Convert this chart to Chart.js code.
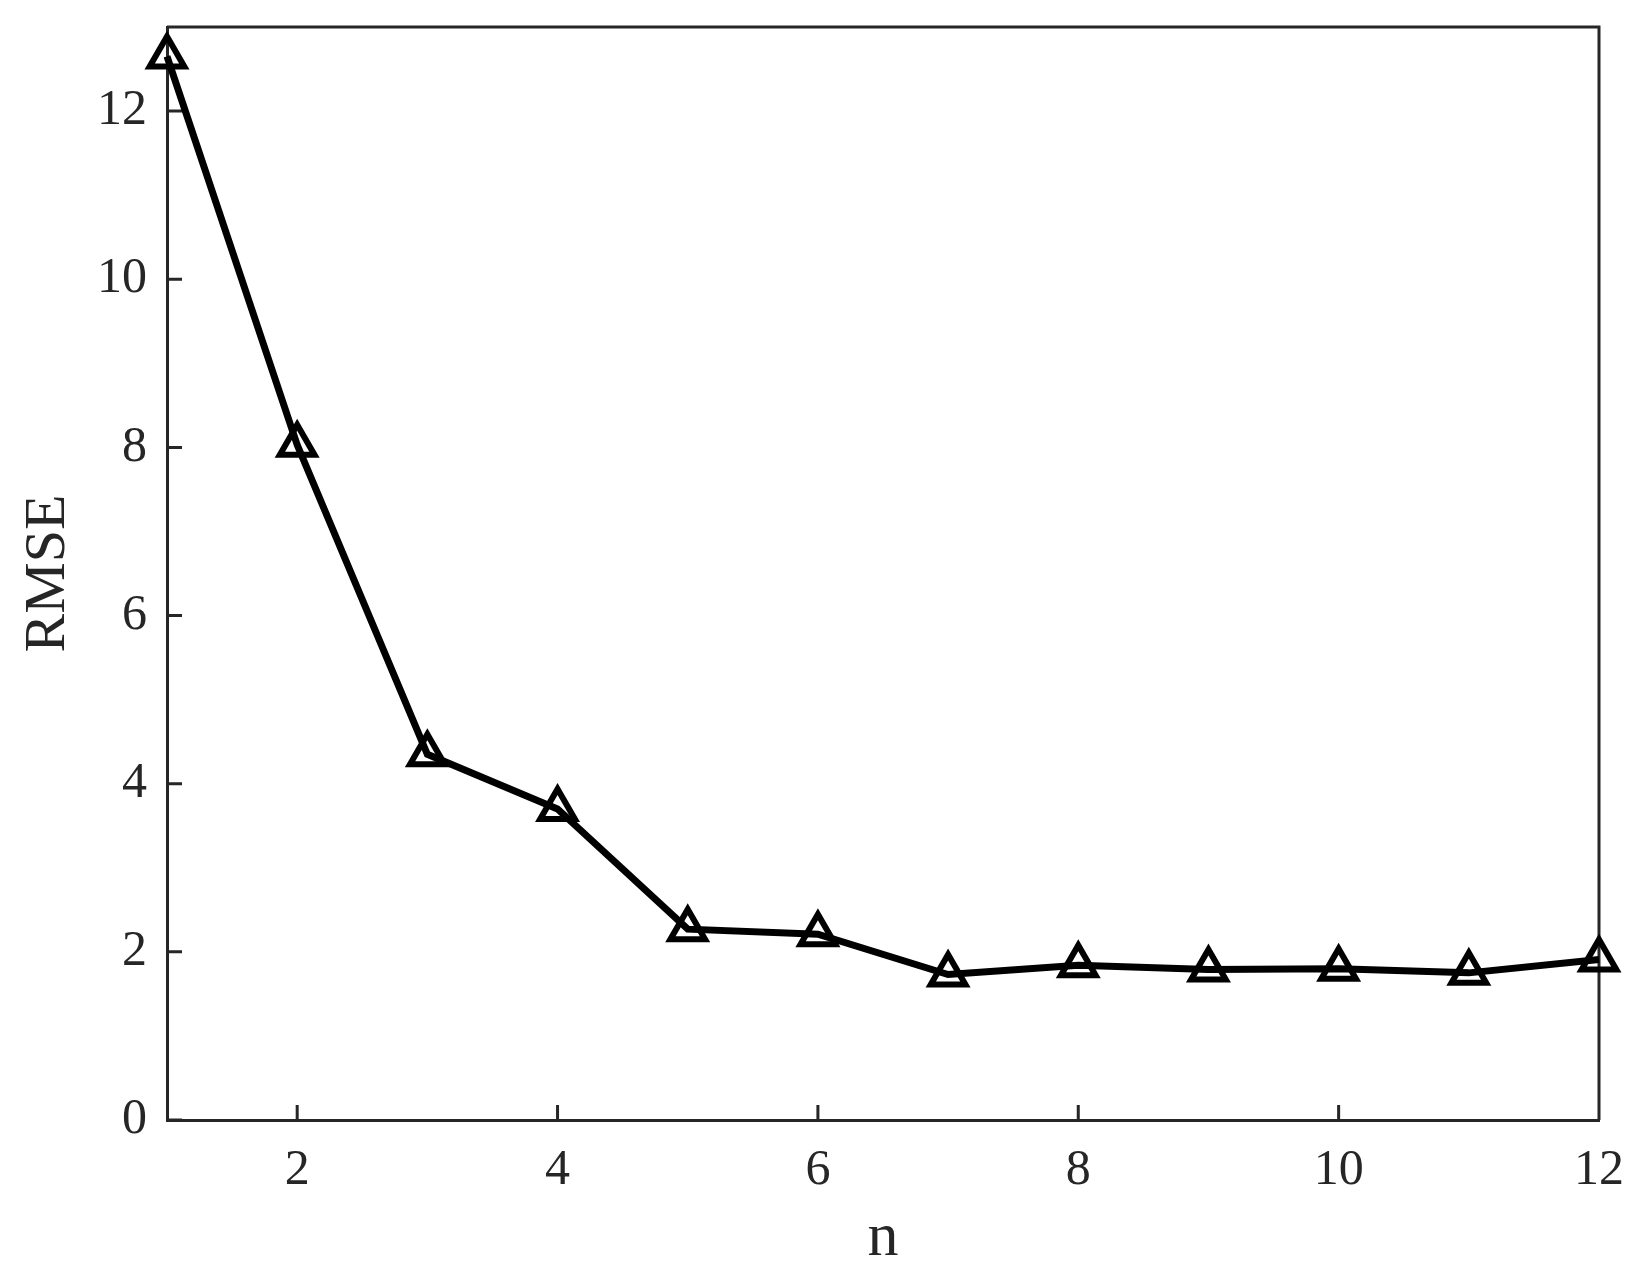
<!DOCTYPE html>
<html>
<head>
<meta charset="utf-8">
<script src="https://cdn.jsdelivr.net/npm/chart.js@4.4.1/dist/chart.umd.min.js"></script>
<style>
  html, body { margin: 0; padding: 0; background: #fff; }
  #wrap { width: 1638px; height: 1276px; }
</style>
</head>
<body>
<div id="wrap"><canvas id="chart" width="1638" height="1276"></canvas></div>
<script>
const nValues = [1, 2, 3, 4, 5, 6, 7, 8, 9, 10, 11, 12];
const rmseValues = [12.65, 8.03, 4.35, 3.70, 2.27, 2.21, 1.73, 1.84, 1.79, 1.80, 1.75, 1.91];
const xTicks = [2, 4, 6, 8, 10, 12];
const yTicks = [0, 2, 4, 6, 8, 10, 12];

const axisColor = '#262626';
const fontFamily = '"Liberation Serif", "DejaVu Serif", serif';

// box on top/right and inward ticks, like the original figure
const frame = {
  id: 'frame',
  beforeDatasetsDraw(chart) {
    const { ctx, chartArea: a, scales: { x, y } } = chart;
    ctx.save();
    ctx.strokeStyle = axisColor;
    ctx.lineWidth = 3;
    ctx.beginPath();
    ctx.moveTo(a.left, a.top);
    ctx.lineTo(a.right, a.top);
    ctx.lineTo(a.right, a.bottom);
    x.ticks.forEach((t) => {
      const px = x.getPixelForValue(t.value);
      ctx.moveTo(px, a.bottom);
      ctx.lineTo(px, a.bottom - 15);
    });
    y.ticks.forEach((t) => {
      const py = y.getPixelForValue(t.value);
      ctx.moveTo(a.left, py);
      ctx.lineTo(a.left + 15, py);
    });
    ctx.stroke();
    ctx.restore();
  }
};

const points = nValues.map((n, i) => ({ x: n, y: rmseValues[i] }));

new Chart(document.getElementById('chart'), {
  type: 'scatter',
  data: {
    datasets: [{
      data: points,
      showLine: true,
      borderColor: '#000',
      borderWidth: 7,
      pointStyle: 'triangle',
      pointRadius: 20,
      pointBorderWidth: 6,
      pointBorderColor: '#000',
      pointBackgroundColor: 'rgba(0,0,0,0)',
      clip: false
    }]
  },
  options: {
    responsive: false,
    animation: false,
    layout: { padding: { left: 0, top: 27, right: 39, bottom: 0 } },
    plugins: {
      legend: { display: false },
      tooltip: { enabled: false }
    },
    scales: {
      x: {
        type: 'linear',
        min: 1,
        max: 12,
        afterBuildTicks: (s) => { s.ticks = xTicks.map((v) => ({ value: v })); },
        afterFit: (s) => { s.height = 156; s.paddingLeft = 0; s.paddingRight = 0; },
        grid: { display: false, drawTicks: false },
        border: { display: true, color: axisColor, width: 3 },
        ticks: {
          color: axisColor,
          padding: 26,
          maxRotation: 0,
          font: { family: fontFamily, size: 50, lineHeight: 1 }
        },
        title: {
          display: true,
          text: 'n',
          color: axisColor,
          padding: { top: 0, bottom: 0 },
          font: { family: fontFamily, size: 62, lineHeight: 1.2 }
        }
      },
      y: {
        type: 'linear',
        min: 0,
        max: 13,
        afterBuildTicks: (s) => { s.ticks = yTicks.map((v) => ({ value: v })); },
        afterFit: (s) => { s.width = 167; s.paddingTop = 0; s.paddingBottom = 0; },
        grid: { display: false, drawTicks: false },
        border: { display: true, color: axisColor, width: 3 },
        ticks: {
          color: axisColor,
          padding: 20,
          font: { family: fontFamily, size: 50, lineHeight: 1 }
        },
        title: {
          display: true,
          text: 'RMSE',
          color: axisColor,
          padding: { top: 14, bottom: 0 },
          font: { family: fontFamily, size: 58, lineHeight: 1.2 }
        }
      }
    }
  },
  plugins: [frame]
});
</script>
</body>
</html>
